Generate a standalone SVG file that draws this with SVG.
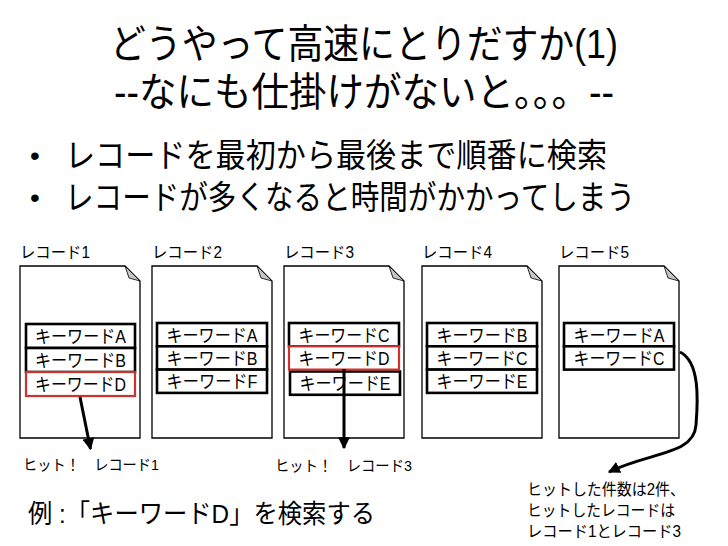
<svg xmlns="http://www.w3.org/2000/svg" width="728" height="546" viewBox="0 0 728 546">
<style>
  text { font-family: "Liberation Sans", "Noto Sans CJK JP", sans-serif; fill: #000; }
  .title { font-size: 40px; text-anchor: middle; }
  .bullet { font-size: 33px; }
  .lbl { font-size: 16px; }
  .kw { font-size: 18px; text-anchor: middle; }
  .hit { font-size: 15px; }
  .note { font-size: 16px; }
  .doc { fill: #fff; stroke: #000; stroke-width: 1.3; }
  .fold { fill: #c4c4c4; stroke: #000; stroke-width: 0.8; }
  .box { fill: #fff; stroke: #000; stroke-width: 2.6; }
  .red { fill: none; stroke: #d0312d; stroke-width: 2.2; }
  .conn { fill: none; stroke: #000; stroke-width: 3; }
</style>
<defs>
  <marker id="ah" markerUnits="userSpaceOnUse" markerWidth="12" markerHeight="12" viewBox="0 0 10 10" refX="9" refY="5" orient="auto">
    <path d="M0,0 L10,5 L0,10 z" fill="#000"/>
  </marker>
</defs>
<rect width="728" height="546" fill="#fff"/>

<g id="title">
  <text class="title" x="364" y="58" textLength="508" lengthAdjust="spacingAndGlyphs">どうやって高速にとりだすか(1)</text>
  <text class="title" x="364" y="106" textLength="500" lengthAdjust="spacingAndGlyphs">--なにも仕掛けがないと。。。--</text>
</g>

<g id="bullets">
  <text x="30" y="165" style="font-size:28px">•</text>
  <text class="bullet" x="65" y="167" textLength="542" lengthAdjust="spacingAndGlyphs">レコードを最初から最後まで順番に検索</text>
  <text x="30" y="207" style="font-size:28px">•</text>
  <text class="bullet" x="65" y="209" textLength="570" lengthAdjust="spacingAndGlyphs">レコードが多くなると時間がかかってしまう</text>
</g>

<g id="record1">
  <text class="lbl" x="20" y="258" textLength="70" lengthAdjust="spacingAndGlyphs">レコード1</text>
  <path class="doc" d="M20,266 H125 L140,281 V438 H20 Z"/>
  <path class="fold" d="M125,266 L129,278 L140,281 Z"/>
  <rect class="box" x="26" y="324" width="109" height="24"/>
  <rect class="box" x="26" y="348" width="109" height="24"/>
  <rect class="box" x="26" y="372" width="109" height="24" style="stroke:none"/>
  <rect class="red" x="26" y="372" width="109" height="24"/>
  <text class="kw" x="80.5" y="342.5" textLength="91" lengthAdjust="spacingAndGlyphs">キーワードA</text>
  <text class="kw" x="80.5" y="366.5" textLength="91" lengthAdjust="spacingAndGlyphs">キーワードB</text>
  <text class="kw" x="80.5" y="390.5" textLength="91" lengthAdjust="spacingAndGlyphs">キーワードD</text>
</g>

<g id="record2">
  <text class="lbl" x="152" y="258" textLength="70" lengthAdjust="spacingAndGlyphs">レコード2</text>
  <path class="doc" d="M152,266 H257 L272,281 V438 H152 Z"/>
  <path class="fold" d="M257,266 L261,278 L272,281 Z"/>
  <rect class="box" x="157" y="323" width="110" height="23.3"/>
  <rect class="box" x="157" y="346.3" width="110" height="23.3"/>
  <rect class="box" x="157" y="369.6" width="110" height="23.3"/>
  <text class="kw" x="212" y="341.5" textLength="91" lengthAdjust="spacingAndGlyphs">キーワードA</text>
  <text class="kw" x="212" y="364.8" textLength="91" lengthAdjust="spacingAndGlyphs">キーワードB</text>
  <text class="kw" x="212" y="388.1" textLength="91" lengthAdjust="spacingAndGlyphs">キーワードF</text>
</g>

<g id="record3">
  <text class="lbl" x="284" y="258" textLength="70" lengthAdjust="spacingAndGlyphs">レコード3</text>
  <path class="doc" d="M284,266 H389 L404,281 V438 H284 Z"/>
  <path class="fold" d="M389,266 L393,278 L404,281 Z"/>
  <rect class="box" x="289" y="323" width="110" height="23.3"/>
  <rect class="box" x="290" y="371.5" width="110" height="23.3"/>
  <rect class="box" x="289" y="346.3" width="110" height="23.3" style="stroke:none"/>
  <rect class="red" x="289" y="346.3" width="110" height="23.3"/>
  <text class="kw" x="344" y="341.5" textLength="91" lengthAdjust="spacingAndGlyphs">キーワードC</text>
  <text class="kw" x="344" y="364.8" textLength="91" lengthAdjust="spacingAndGlyphs">キーワードD</text>
  <text class="kw" x="345" y="390" textLength="91" lengthAdjust="spacingAndGlyphs">キーワードE</text>
</g>

<g id="record4">
  <text class="lbl" x="422" y="258" textLength="70" lengthAdjust="spacingAndGlyphs">レコード4</text>
  <path class="doc" d="M422,266 H527 L542,281 V438 H422 Z"/>
  <path class="fold" d="M527,266 L531,278 L542,281 Z"/>
  <rect class="box" x="427" y="323" width="110" height="23.3"/>
  <rect class="box" x="427" y="346.3" width="110" height="23.3"/>
  <rect class="box" x="427" y="369.6" width="110" height="23.3"/>
  <text class="kw" x="482" y="341.5" textLength="91" lengthAdjust="spacingAndGlyphs">キーワードB</text>
  <text class="kw" x="482" y="364.8" textLength="91" lengthAdjust="spacingAndGlyphs">キーワードC</text>
  <text class="kw" x="482" y="388.1" textLength="91" lengthAdjust="spacingAndGlyphs">キーワードE</text>
</g>

<g id="record5">
  <text class="lbl" x="559" y="258" textLength="70" lengthAdjust="spacingAndGlyphs">レコード5</text>
  <path class="doc" d="M559,266 H664 L679,281 V438 H559 Z"/>
  <path class="fold" d="M664,266 L668,278 L679,281 Z"/>
  <rect class="box" x="564" y="323" width="110" height="23.3"/>
  <rect class="box" x="564" y="346.3" width="110" height="23.3"/>
  <text class="kw" x="619" y="341.5" textLength="91" lengthAdjust="spacingAndGlyphs">キーワードA</text>
  <text class="kw" x="619" y="364.8" textLength="91" lengthAdjust="spacingAndGlyphs">キーワードC</text>
</g>

<g id="connectors">
  <line class="conn" x1="80" y1="397" x2="90.5" y2="449" marker-end="url(#ah)"/>
  <line class="conn" x1="344" y1="369" x2="344" y2="448" marker-end="url(#ah)"/>
  <path class="conn" d="M680,352 C700,362 698,400 696,425 C694,455 650,452 609,472" marker-end="url(#ah)"/>
</g>

<g id="hit1">
  <text class="hit" x="23" y="470" textLength="136" lengthAdjust="spacingAndGlyphs">ヒット！　レコード1</text>
</g>
<g id="hit3">
  <text class="hit" x="275" y="471" textLength="137" lengthAdjust="spacingAndGlyphs">ヒット！　レコード3</text>
</g>

<g id="example">
  <text x="28" y="523" style="font-size:26px" textLength="347" lengthAdjust="spacingAndGlyphs">例 :「キーワードD」を検索する</text>
</g>

<g id="result">
  <text class="note" x="527" y="495" textLength="158" lengthAdjust="spacingAndGlyphs">ヒットした件数は2件、</text>
  <text class="note" x="527" y="516" textLength="148" lengthAdjust="spacingAndGlyphs">ヒットしたレコードは</text>
  <text class="note" x="527" y="537" textLength="154" lengthAdjust="spacingAndGlyphs">レコード1とレコード3</text>
</g>
</svg>
